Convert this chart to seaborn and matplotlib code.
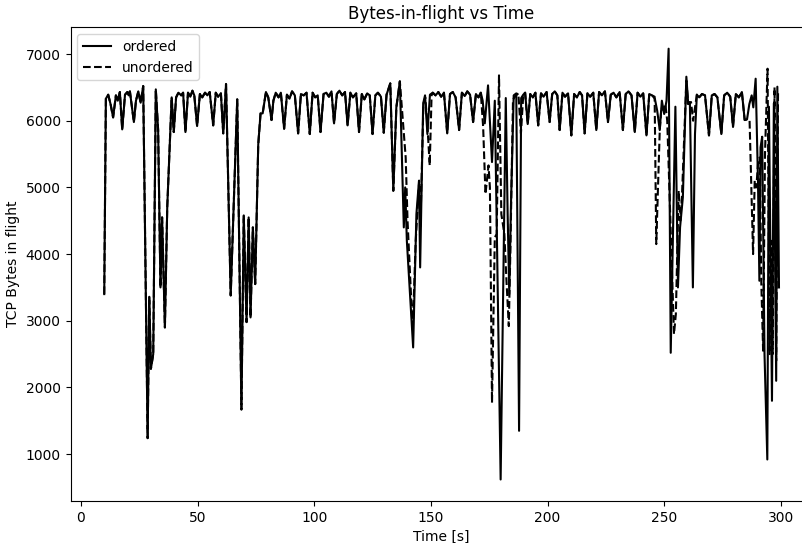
import matplotlib
matplotlib.use("Agg")
import matplotlib.pyplot as plt
import pandas as pd
import seaborn as sns

# vertices: time [s] and bytes in flight
ordered_t = [
    10.0, 10.7, 11.7, 12.7, 13.8, 15.0, 15.8, 16.7, 17.7, 18.9, 19.9, 20.5, 21.0, 22.7, 23.6, 24.6, 25.6, 26.7,
    28.6, 29.3, 30.0, 31.0, 32.1, 33.1, 34.1, 34.8, 36.0, 37.0, 38.9, 39.8, 40.8, 41.8, 43.0, 43.8, 44.8,
    45.9, 46.9, 47.8, 48.6, 49.8, 51.0, 52.0, 53.2, 54.2, 55.2, 56.7, 57.8, 58.8, 60.0, 61.0, 62.2, 64.2,
    67.0, 68.8, 69.8, 71.0, 71.9, 72.7, 73.7, 74.7, 76.0, 77.0, 77.9, 79.3, 80.3, 81.7, 82.5, 83.5, 84.7,
    85.7, 87.1, 88.3, 89.4, 90.5, 91.7, 93.1, 94.3, 95.5, 96.7, 98.1, 99.3, 100.4, 101.5, 102.7, 104.0,
    105.2, 106.3, 107.4, 108.5, 109.7, 110.8, 112.0, 113.2, 114.3, 115.5, 116.6, 118.0, 119.2, 120.4,
    121.5, 122.7, 123.8, 125.0, 126.2, 127.3, 128.6, 129.8, 131.0, 132.6, 133.9, 135.2, 136.7, 138.4,
    139.0, 139.7, 142.4, 143.8, 144.9, 145.4, 146.7, 147.5, 148.5, 149.6, 150.8, 152.0, 153.2, 154.4,
    155.6, 157.0, 158.2, 159.4, 160.6, 162.1, 163.3, 164.5, 165.6, 166.8, 168.1, 169.3, 170.4, 171.4,
    172.2, 173.1, 174.5, 176.2, 177.4, 178.3, 179.9, 182.1, 182.9, 183.6, 184.3, 185.5, 186.6, 187.8,
    188.7, 189.6, 190.4, 191.5, 192.6, 193.7, 194.8, 196.0, 197.2, 198.3, 199.6, 200.9, 202.0, 203.1,
    204.2, 205.2, 206.4, 207.5, 208.8, 210.2, 211.4, 212.6, 213.8, 214.8, 215.9, 217.1, 218.3, 219.6,
    220.9, 222.1, 223.3, 224.6, 225.9, 227.1, 228.3, 229.5, 230.9, 232.3, 233.5, 234.7, 236.0, 237.4,
    238.6, 239.8, 241.0, 242.4, 243.6, 244.8, 246.0, 247.0, 248.1, 249.0, 250.0, 251.0, 251.9, 252.8,
    254.8, 255.9, 256.8, 258.0, 259.5, 260.3, 261.0, 262.3, 263.2, 264.0, 265.0, 266.2, 267.5, 269.2,
    270.4, 271.6, 272.8, 274.5, 275.7, 277.0, 278.3, 279.5, 280.7, 282.0, 283.3, 284.5, 285.5, 286.5,
    287.5, 288.2, 289.2, 290.2, 290.8, 291.3, 292.0, 293.0, 294.2, 294.9, 296.2, 297.0, 298.0, 298.5,
    299.2,
]
ordered_bytes = [
    3400, 6330, 6390, 6250, 6050, 6380, 6300, 6430, 5870, 6390, 6430, 6380, 6440, 5980, 6300, 6440, 6270, 6520,
    1240, 3360, 2280, 2500, 6470, 5860, 3500, 4550, 2900, 4700, 6350, 5830, 6350, 6420, 6380, 6420, 5830,
    6420, 6360, 6450, 6380, 5920, 6400, 6350, 6420, 6380, 6430, 5930, 6420, 6360, 6410, 5810, 6550, 3380,
    6320, 1670, 4580, 2980, 4550, 3050, 4400, 3550, 5640, 6110, 6110, 6430, 6350, 6010, 6300, 6420, 6350,
    6420, 5880, 6390, 6330, 6440, 6380, 5810, 6400, 6380, 6420, 5800, 6420, 6350, 6380, 5830, 6400,
    6420, 6360, 6440, 5960, 6400, 6450, 6380, 6430, 5930, 6420, 6350, 6410, 5830, 6400,
    6320, 6410, 6380, 5800, 6380, 6420, 6360, 5820, 6390, 6560, 4950, 6200, 6590, 4400,
    5000, 4200, 2600, 4600, 5100, 3800, 6260, 6380, 5800, 6390, 6420, 6380, 6430, 6360,
    6420, 5810, 6400, 6430, 6350, 5860, 6420, 6370, 6440, 6390, 5980, 6400, 6350, 6420,
    6300, 5960, 6530, 5380, 6300, 4280, 620, 6340, 4600, 3400, 4700, 6380, 6410, 1350,
    6340, 6390, 6420, 5950, 6400, 6350, 6420, 5930, 6410, 6360, 6430, 5980, 6400, 6440,
    6380, 5860, 6420, 6360, 6410, 5780, 6400, 6350, 6430, 6380, 5810, 6410, 6360, 6420,
    5860, 6430, 6380, 6440, 5980, 6390, 6420, 6350, 6430, 5860, 6400, 6440, 6380, 5830,
    6420, 6360, 6410, 5780, 6400, 6380, 6330, 6150, 5860, 6300, 6100, 6300, 7080, 2520,
    6210, 3500, 4400, 4850, 6660, 6250, 6280, 3500, 5800, 6390, 6350, 6400, 6380, 5780,
    6380, 6400, 6350, 5800, 6380, 6420, 6360, 5910, 6400, 6350, 6430, 6010, 6020, 6250,
    6380, 6200, 6630, 5100, 3600, 5600, 5760, 2500, 920, 6210, 1800, 6260, 2100, 6510,
    3500,
]

unordered_t = [
    10.0, 10.7, 11.7, 12.7, 13.8, 15.0, 15.8, 16.7, 17.7, 18.9, 19.9, 20.5, 21.0, 22.7, 23.6, 24.6, 25.6, 26.7,
    28.6, 29.3, 30.0, 31.0, 32.1, 33.1, 34.1, 34.8, 36.0, 37.0, 38.9, 39.8, 40.8, 41.8, 43.0, 43.8, 44.8,
    45.9, 46.9, 47.8, 48.6, 49.8, 51.0, 52.0, 53.2, 54.2, 55.2, 56.7, 57.8, 58.8, 60.0, 61.0, 62.2, 64.2,
    67.0, 68.8, 69.8, 71.0, 71.9, 72.7, 73.7, 74.7, 76.0, 77.0, 77.9, 79.3, 80.3, 81.7, 82.5, 83.5, 84.7,
    85.7, 87.1, 88.3, 89.4, 90.5, 91.7, 93.1, 94.3, 95.5, 96.7, 98.1, 99.3, 100.4, 101.5, 102.7, 104.0,
    105.2, 106.3, 107.4, 108.5, 109.7, 110.8, 112.0, 113.2, 114.3, 115.5, 116.6, 118.0, 119.2, 120.4,
    121.5, 122.7, 123.8, 125.0, 126.2, 127.3, 128.6, 129.8, 131.0, 132.6, 133.9, 135.2, 136.7,
    139.2, 140.0, 142.2, 143.5, 145.0, 145.5, 146.8, 147.6, 148.4, 149.5, 150.3,
    150.8, 152.0, 153.2, 154.4, 155.6, 157.0, 158.2, 159.4, 160.6, 162.1, 163.3, 164.5, 165.6, 166.8,
    168.1, 169.3, 170.4, 171.4,
    172.4, 173.4, 174.7, 175.3, 176.2, 177.4, 178.2, 179.2, 180.2, 181.5, 182.4, 183.4, 184.1, 185.2,
    186.5, 187.5, 188.6, 189.6,
    190.4, 191.5, 192.6, 193.7, 194.8, 196.0, 197.2, 198.3, 199.6, 200.9, 202.0, 203.1,
    204.2, 205.2, 206.4, 207.5, 208.8, 210.2, 211.4, 212.6, 213.8, 214.8, 215.9, 217.1, 218.3, 219.6,
    220.9, 222.1, 223.3, 224.6, 225.9, 227.1, 228.3, 229.5, 230.9, 232.3, 233.5, 234.7, 236.0, 237.4,
    238.6, 239.8, 241.0, 242.4, 243.6, 244.8,
    245.9, 246.6, 248.1, 248.8, 249.6, 250.5, 251.3, 254.2, 255.0, 256.2, 256.9, 257.6, 259.5, 260.3,
    261.5, 262.4, 263.2,
    264.0, 265.0, 266.2, 267.5, 269.2, 270.4, 271.6, 272.8, 274.5, 275.7, 277.0, 278.3, 279.5, 280.7,
    282.0, 283.3, 284.5, 285.5,
    286.6, 288.1, 288.8, 289.5, 290.3, 291.0, 291.6, 292.4, 293.2, 294.3, 295.2, 295.8, 296.5, 297.3,
    298.0, 298.8,
]
unordered_bytes = [
    3400, 6330, 6390, 6250, 6050, 6380, 6300, 6430, 5870, 6390, 6430, 6380, 6440, 5980, 6300, 6440, 6270, 6520,
    1240, 3360, 2280, 2500, 6470, 5860, 3500, 4550, 2900, 4700, 6350, 5830, 6350, 6420, 6380, 6420, 5830,
    6420, 6360, 6450, 6380, 5920, 6400, 6350, 6420, 6380, 6430, 5930, 6420, 6360, 6410, 5810, 6550, 3380,
    6320, 1670, 4580, 2980, 4550, 3050, 4400, 3550, 5640, 6110, 6110, 6430, 6350, 6010, 6300, 6420, 6350,
    6420, 5880, 6390, 6330, 6440, 6380, 5810, 6400, 6380, 6420, 5800, 6420, 6350, 6380, 5830, 6400,
    6420, 6360, 6440, 5960, 6400, 6450, 6380, 6430, 5930, 6420, 6350, 6410, 5830, 6400,
    6320, 6410, 6380, 5800, 6380, 6420, 6360, 5820, 6390, 6560, 4950, 6200, 6590,
    5450, 4500, 2850, 4200, 5100, 4400, 6250, 6350, 6000, 5330, 6380,
    6420, 6380, 6430, 6360, 6420, 5810, 6400, 6430, 6350, 5860, 6420, 6370, 6440, 6390,
    5980, 6400, 6350, 6420,
    5910, 4900, 5330, 5000, 1770, 4250, 4300, 6680, 4600, 4300, 3600, 2920, 4100, 6320,
    6380, 6410, 5810, 6390,
    6420, 5950, 6400, 6350, 6420, 5930, 6410, 6360, 6430, 5980, 6400, 6440,
    6380, 5860, 6420, 6360, 6410, 5780, 6400, 6350, 6430, 6380, 5810, 6410, 6360, 6420,
    5860, 6430, 6380, 6440, 5980, 6390, 6420, 6350, 6430, 5860, 6400, 6440, 6380, 5830,
    6420, 6360, 6410, 5780, 6400, 6380,
    6360, 4150, 5860, 6200, 6160, 6250, 6000, 2800, 3100, 4950, 4500, 4850, 6600, 6250,
    6280, 6000, 6200,
    6390, 6350, 6400, 6380, 5780, 6380, 6400, 6350, 5800, 6380, 6420, 6360, 5910, 6400,
    6350, 6430, 6010, 6020,
    6000, 4000, 5100, 5000, 5400, 5450, 3600, 2550, 5500, 6780, 2500, 4200, 2500, 6500,
    2400, 6420,
]

df_ordered = pd.DataFrame({"time": ordered_t, "bytes": ordered_bytes})
df_unordered = pd.DataFrame({"time": unordered_t, "bytes": unordered_bytes})

fig = plt.figure(figsize=(8.03, 5.43), dpi=100)
ax = fig.add_axes([0.0878, 0.0773, 0.9243, 0.8727])

sns.lineplot(data=df_ordered, x="time", y="bytes", color="black", linewidth=1.5,
             estimator=None, sort=False, label="ordered", ax=ax)
sns.lineplot(data=df_unordered, x="time", y="bytes", color="black", linewidth=1.5,
             linestyle="--", estimator=None, sort=False, label="unordered", ax=ax)

ax.set_title("Bytes-in-flight vs Time")
ax.set_xlabel("Time [s]")
ax.set_ylabel("TCP Bytes in flight")
ax.legend(loc="upper left")

fig.savefig("out.png", dpi=100)
